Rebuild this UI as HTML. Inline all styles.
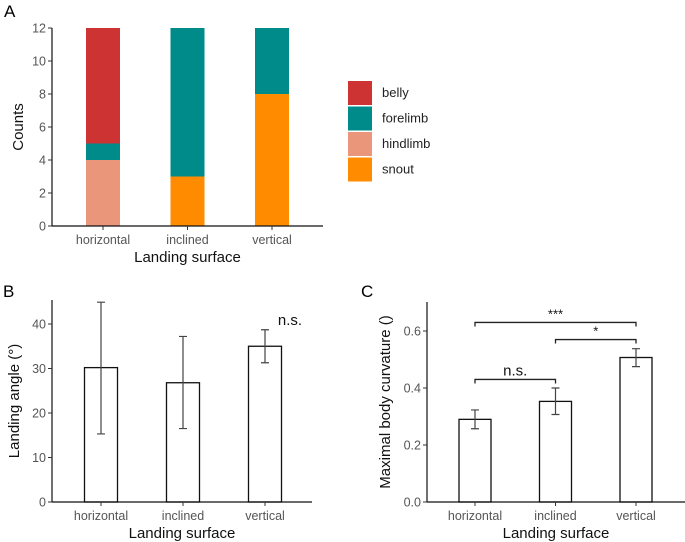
<!DOCTYPE html>
<html><head><meta charset="utf-8"><style>
body{margin:0;background:#fff;}
svg{display:block;font-family:"Liberation Sans","DejaVu Sans",sans-serif;}
.tk{fill:#555;font-size:12.5px;}
.ttl{fill:#111;font-size:15px;}
</style></head><body>
<svg id="fig" width="685" height="542" viewBox="0 0 685 542">
<text x="4" y="17" font-size="17">A</text>
<text x="3" y="297" font-size="17">B</text>
<text x="361" y="297" font-size="17">C</text>
<g id="pa"></g>
<g id="pb"></g>
<g id="pc"></g>
</svg>
<script>
const categories=["horizontal","inclined","vertical"];
const stackKeys=["snout","hindlimb","forelimb","belly"];
const snoutCounts=[0,3,8];
const hindlimbCounts=[4,0,0];
const forelimbCounts=[1,9,4];
const bellyCounts=[7,0,0];
const countTicks=[0,2,4,6,8,10,12];
const angleMean=[30.2,26.8,35.0];
const angleLow=[15.3,16.5,31.3];
const angleHigh=[44.9,37.2,38.7];
const angleTicks=[0,10,20,30,40];
const curvMean=[0.29,0.353,0.507];
const curvLow=[0.257,0.307,0.475];
const curvHigh=[0.323,0.40,0.538];
const curvTicks=[0,0.2,0.4,0.6];
const sigLabels=["n.s.","*","***"];
const sigFrom=[0,1,0];
const sigTo=[1,2,2];
const sigLevel=[0.43,0.57,0.63];

const NS="http://www.w3.org/2000/svg";
function mk(p,t,a){const e=document.createElementNS(NS,t);for(const k in a)e.setAttribute(k,a[k]);p.appendChild(e);return e;}
const colors={belly:"#CD3333",forelimb:"#008B8B",hindlimb:"#E9967A",snout:"#FF8C00"};

function axes(g,x0,x1,yTop,yBase,yScale,ticks,fmt,xScale,yTitle,ycx){
  const ax=mk(g,"line",{x1:x0,y1:yBase,x2:x1,y2:yBase,stroke:"#111","stroke-width":1.2});
  
  const ay=mk(g,"line",{x1:x0,y1:yTop,x2:x0,y2:yBase,stroke:"#111","stroke-width":1.2});
  
  ticks.forEach(v=>{const y=yScale(v);
    mk(g,"line",{x1:x0-4,y1:y,x2:x0,y2:y,stroke:"#333"});
    const t=mk(g,"text",{x:x0-6,y:y+4.5,"text-anchor":"end",class:"tk"});t.textContent=fmt(v);
    });
  categories.forEach((c,i)=>{const x=xScale(i);
    mk(g,"line",{x1:x,y1:yBase,x2:x,y2:yBase+4,stroke:"#333"});
    const t=mk(g,"text",{x:x,y:yBase+18,"text-anchor":"middle",class:"tk"});t.textContent=c;
    });
  const xt=mk(g,"text",{x:(x0+x1)/2,y:yBase+36,"text-anchor":"middle",class:"ttl"});xt.textContent="Landing surface";
  
  const yt=mk(g,"text",{x:0,y:0,"text-anchor":"middle",class:"ttl",transform:`translate(${ycx},${(yTop+yBase)/2}) rotate(-90)`});yt.textContent=yTitle;
  
}

// Panel A
(function(){
  const g=document.getElementById("pa");
  const yS=v=>226-v*16.5, xS=i=>103+i*84.5, bw=34;
  const series={snout:snoutCounts,hindlimb:hindlimbCounts,forelimb:forelimbCounts,belly:bellyCounts};
  categories.forEach((c,i)=>{let base=0;
    stackKeys.forEach(k=>{const v=series[k][i];if(!v)return;
      const r=mk(g,"rect",{x:xS(i)-bw/2,y:yS(base+v),width:bw,height:yS(base)-yS(base+v),fill:colors[k]});
      
      base+=v;});});
  axes(g,52,323,28,226,yS,countTicks,v=>v,xS,"Counts",23);
  ["belly","forelimb","hindlimb","snout"].forEach((k,i)=>{
    const r=mk(g,"rect",{x:348,y:81+i*25.5,width:24,height:24,fill:colors[k]});
    
    const t=mk(g,"text",{x:382,y:97+i*25.5,"font-size":"13","fill":"#222"});t.textContent=k;
    });
})();

function errBars(g,xS,yS,mean,lo,hi,bw,name){
  categories.forEach((c,i)=>{const x=xS(i);
    const r=mk(g,"rect",{x:x-bw/2,y:yS(mean[i]),width:bw,height:yS(0)-yS(mean[i]),fill:"#fff",stroke:"#111","stroke-width":1.3});
    
    const e=mk(g,"path",{d:`M${x-4},${yS(hi[i])}H${x+4}M${x},${yS(hi[i])}V${yS(lo[i])}M${x-4},${yS(lo[i])}H${x+4}`,stroke:"#444","stroke-width":1.2,fill:"none"});
    });
}

// Panel B
(function(){
  const g=document.getElementById("pb");
  const yS=v=>502-v*4.45, xS=i=>101+i*82;
  errBars(g,xS,yS,angleMean,angleLow,angleHigh,33,"angle");
  axes(g,52,312,300,502,yS,angleTicks,v=>v,xS,"Landing angle (°)",19);
  const t=mk(g,"text",{x:290,y:325,"font-size":"15","text-anchor":"middle",fill:"#111"});t.textContent="n.s.";
  
})();

// Panel C
(function(){
  const g=document.getElementById("pc");
  const yS=v=>502-v*285, xS=i=>475+i*80.5;
  errBars(g,xS,yS,curvMean,curvLow,curvHigh,32,"curvature");
  axes(g,427,685,302,502,yS,curvTicks,v=>v.toFixed(1),xS,"Maximal body curvature ()",390);
  sigLabels.forEach((s,i)=>{const y=yS(sigLevel[i]),a=xS(sigFrom[i]),b=xS(sigTo[i]);
    const p=mk(g,"path",{d:`M${a},${y+4}V${y}H${b}V${y+4}`,stroke:"#222","stroke-width":1.3,fill:"none"});
    
    const t=mk(g,"text",{x:(a+b)/2,y:y-4,"font-size":s==="n.s."?"15":"13","text-anchor":"middle",fill:"#111"});t.textContent=s;
    });
})();
</script>
</body></html>
